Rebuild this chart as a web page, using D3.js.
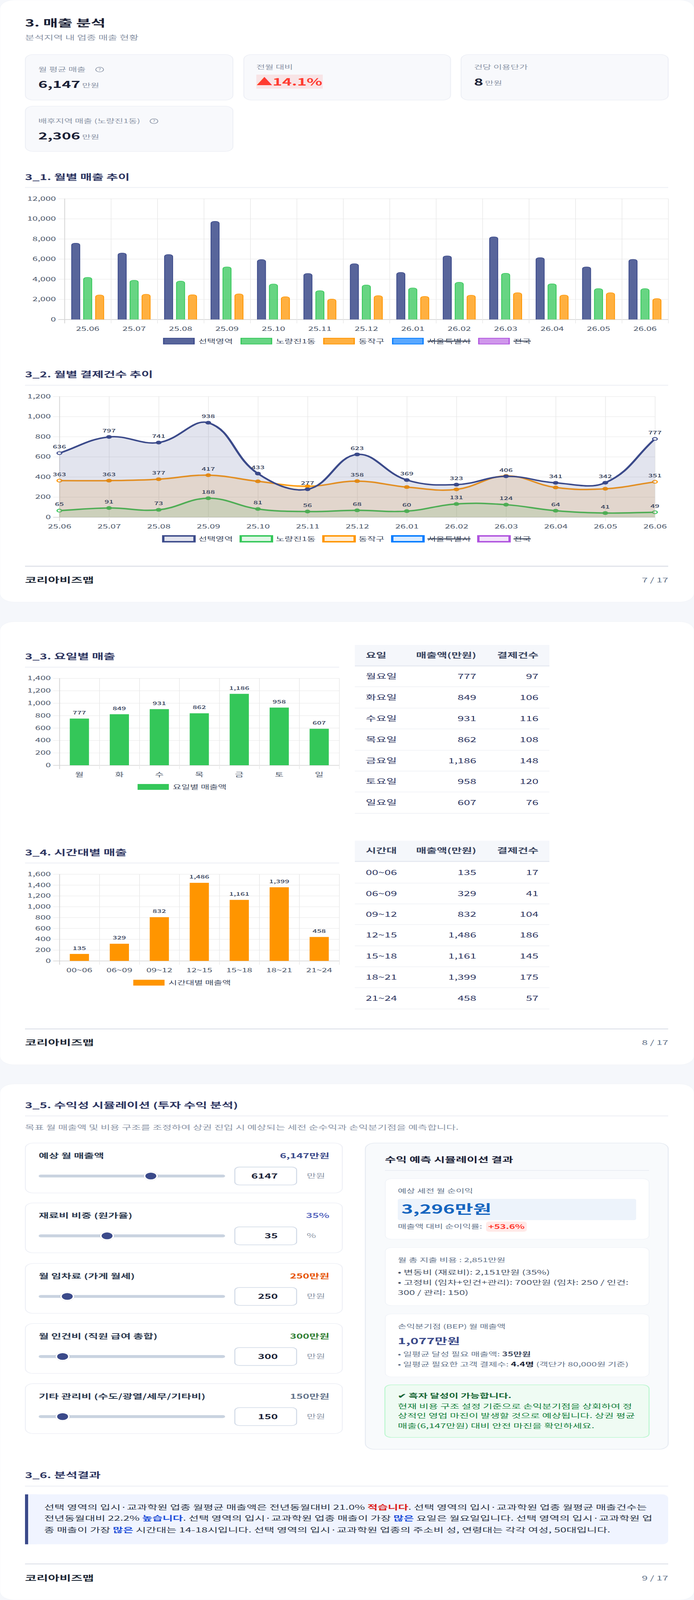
<html>
<head>
<meta charset="utf-8">
<script src="https://d3js.org/d3.v7.min.js"></script>
<style>
html, body { margin: 0; padding: 0; background: #f5f7fb; overflow: hidden; }
svg { display: block; }
text { font-family: "Noto Sans CJK KR", "Noto Sans", sans-serif; }
</style>
</head>
<body>
<svg id="page" width="1776" height="6604" viewBox="0 0 1776 6604" preserveAspectRatio="none"></svg>
<script>
// 3_1 / 3_2 months
var months = ["25.06","25.07","25.08","25.09","25.10","25.11","25.12","26.01","26.02","26.03","26.04","26.05","26.06"]
var legendNames = ["선택영역","노량진1동","동작구","서울특별시","전국"]
var legendColors = ["#3b4a8a","#34c759","#ff9500","#007aff","#af52de"]
var hiddenSeries = ["서울특별시","전국"]

// 3_1 monthly sales
var salesSelected = [7576,6595,6443,9747,5942,4564,5533,4669,6315,8206,6140,5218,5965]
var salesDong = [4179,3887,3805,5218,3513,2860,3420,3128,3688,4587,3537,3058,3058]
var salesGu = [2428,2498,2451,2533,2253,2019,2358,2288,2405,2650,2416,2650,2066]
var salesTicks = [0,2000,4000,6000,8000,10000,12000]

// 3_2 monthly payment counts
var countSelected = [636,797,741,938,433,277,623,369,323,406,341,342,777]
var countDong = [65,91,73,188,81,56,68,60,131,124,64,41,49]
var countGu = [363,363,377,417,356,307,358,299,276,410,295,282,351]
var countGuLabeled = ["25.06","25.07","25.08","25.09","25.12","26.06"]
var countTicks = [0,200,400,600,800,1000,1200]

// 3_3 weekday
var dowShort = ["월","화","수","목","금","토","일"]
var dowNames = ["월요일","화요일","수요일","목요일","금요일","토요일","일요일"]
var dowSales = [777,849,931,862,1186,958,607]
var dowBarHeights = [751,821,903,836,1149,928,587]
var dowCounts = [97,106,116,108,148,120,76]
var dowTicks = [0,200,400,600,800,1000,1200,1400]

// 3_4 time band
var timeNames = ["00~06","06~09","09~12","12~15","15~18","18~21","21~24"]
var timeSales = [135,329,832,1486,1161,1399,458]
var timeBarHeights = [128,316,806,1440,1125,1358,441]
var timeCounts = [17,41,104,186,145,175,57]
var timeTicks = [0,200,400,600,800,1000,1200,1400,1600]

// 3_5 simulator
var simLabels = ["예상 월 매출액","재료비 비중 (원가율)","월 임차료 (가게 월세)","월 인건비 (직원 급여 총합)","기타 관리비 (수도/광열/세무/기타비)"]
var simShown = ["6,147만원","35%","250만원","300만원","150만원"]
var simInputs = ["6147","35","250","300","150"]
var simUnits = ["만원","%","만원","만원","만원"]
var simColors = ["#3b4a8a","#5c6bc0","#e65100","#2e7d32","#64748b"]
var simFractions = [0.61,0.356,0.125,0.098,0.098]
var simTops = [4718,4965,5215,5463,5711]

var NAVY = "#2d3561", INK = "#1a1f36", MUTED = "#8a94a6", TICK = "#4a5568", LABEL = "#34405a"

var svg = d3.select("#page")

// window can be shorter than the page (capped at 4096 when photographed): fit the height
svg.attr("height", Math.min(window.innerHeight, 6604))

function txt(parent, x, y, s, size, fill, weight, anchor) {
    return parent.append("text").attr("x", x).attr("y", y).attr("dy", "0.35em")
        .attr("font-size", size).attr("fill", fill || INK).attr("font-weight", weight || 400)
        .attr("text-anchor", anchor || "start").text(s)
}
// text made of styled runs
function rich(parent, x, y, runs, size, fill) {
    var t = parent.append("text").attr("x", x).attr("y", y).attr("dy", "0.35em")
        .attr("font-size", size).attr("fill", fill).style("white-space", "pre")
    runs.forEach(function(r) {
        var sp = t.append("tspan").text(r[0])
        if (r[1]) sp.attr("fill", r[1])
        if (r[2]) sp.attr("font-weight", r[2])
    })
    return t
}
function box(parent, x, y, w, h, r, fill, stroke, sw) {
    return parent.append("rect").attr("x", x).attr("y", y).attr("width", w).attr("height", h)
        .attr("rx", r).attr("fill", fill).attr("stroke", stroke || "none").attr("stroke-width", sw || 0)
}
function rule(x1, x2, y, color, sw) {
    svg.append("line").attr("x1", x1).attr("x2", x2).attr("y1", y).attr("y2", y)
        .attr("stroke", color).attr("stroke-width", sw)
}
function sectionTitle(s, y, ruleY, x2) {
    txt(svg, 64, y, s, 32.4, NAVY, 700)
    rule(64, x2 || 1710, ruleY, "#eff1f6", 4)
}
function footer(lineY, textY, page) {
    rule(64, 1710, lineY, "#d3d8e2", 3)
    txt(svg, 64, textY, "코리아비즈맵", 32, "#1f2937", 700)
    txt(svg, 1710, textY, page, 27, "#64748b", 400, "end")
}

// page sheets
box(svg, 0, 0, 1776, 2485, 36, "#fff").attr("stroke", "#eff1f6").attr("stroke-width", 1)
box(svg, 0, 2566, 1776, 1829, 36, "#fff").attr("stroke", "#eff1f6").attr("stroke-width", 1)
box(svg, 0, 4474, 1776, 2130, 36, "#fff").attr("stroke", "#eff1f6").attr("stroke-width", 1)

// header + KPI cards
txt(svg, 64, 96, "3. 매출 분석", 40.8, INK, 700)
txt(svg, 64, 156, "분석지역 내 업종 매출 현황", 26.4, MUTED)

function kpiCard(x, y, w, h) { box(svg, x, y, w, h, 20, "#f8f9fc", "#eef0f6", 2.5) }
function helpIcon(x, y) {
    svg.append("circle").attr("cx", x).attr("cy", y).attr("r", 10).attr("fill", "none").attr("stroke", MUTED).attr("stroke-width", 2)
    txt(svg, x, y, "?", 15, MUTED, 400, "middle")
}
kpiCard(65, 225, 531, 188)
kpiCard(624, 225, 529, 188)
kpiCard(1180, 225, 530, 188)
kpiCard(65, 438, 531, 187)

txt(svg, 98, 287, "월 평균 매출", 24, MUTED)
helpIcon(255, 287)
txt(svg, 98, 349, "6,147", 40, INK, 700)
txt(svg, 210, 353, "만원", 24, MUTED)

txt(svg, 656, 277, "전월 대비", 24, MUTED)
box(svg, 656, 308, 170, 58, 0, "#f8e4e6")
txt(svg, 656, 338, "▲14.1%", 41.6, "#ff3b30", 700)

txt(svg, 1213, 277, "건당 이용단가", 24, MUTED)
txt(svg, 1213, 339, "8", 40, INK, 700)
txt(svg, 1241, 343, "만원", 24, MUTED)

txt(svg, 98, 500, "배후지역 매출 (노량진1동)", 24, MUTED)
helpIcon(394, 500)
txt(svg, 98, 561, "2,306", 40, INK, 700)
txt(svg, 210, 566, "만원", 24, MUTED)

// chart helpers
function yAxis(g, y, ticks, left, width) {
    var a = g.append("g").attr("transform", "translate(" + left + ",0)")
        .call(d3.axisLeft(y).tickValues(ticks).tickFormat(d3.format(",")).tickSize(-width).tickPadding(22))
    a.select(".domain").remove()
    a.selectAll("line").attr("x1", -16).attr("stroke", function(d) { return d === 0 ? "#d8d8d8" : "#ebebeb" })
        .attr("stroke-width", function(d) { return d === 0 ? 3 : 2 })
    a.selectAll("text").attr("font-size", 24).attr("fill", TICK)
    a.attr("font-family", null)
}
function vGrid(g, n, left, right, top, bottom) {
    var ix = d3.scaleLinear().domain([0, n]).range([left, right])
    var a = g.append("g").attr("transform", "translate(0," + bottom + ")")
        .call(d3.axisBottom(ix).tickValues(d3.range(n + 1)).tickFormat("").tickSize(16))
    a.select(".domain").remove()
    a.selectAll("line").attr("y1", top - bottom).attr("stroke", function(d) { return d === 0 ? "#d4d4d4" : "#e8e8e8" })
        .attr("stroke-width", function(d) { return d === 0 ? 2 : 1.5 })
}
function xLabels(g, x, bottom) {
    var a = g.append("g").attr("transform", "translate(0," + bottom + ")")
        .call(d3.axisBottom(x).tickSize(0).tickPadding(30))
    a.select(".domain").remove()
    a.selectAll("text").attr("font-size", 24).attr("fill", TICK)
    a.attr("font-family", null)
    return a
}
// centred legend: swatch, gap, text
function legend(g, names, colors, cx, y, style) {
    var row = g.append("g")
    var cursor = 0
    names.forEach(function(n, i) {
        var item = row.append("g").attr("transform", "translate(" + cursor + ",0)")
        style(item, colors[i], i)
        var t = txt(item, 90, 0, n, 24, "#3f4a5f")
        var w = t.node().getComputedTextLength()
        if (hiddenSeries.indexOf(n) >= 0) {
            item.append("line").attr("x1", 90).attr("x2", 90 + w).attr("y1", 0).attr("y2", 0)
                .attr("stroke", "#3f4a5f").attr("stroke-width", 4)
        }
        cursor += 90 + w + 20
    })
    row.attr("transform", "translate(" + (cx - (cursor - 20) / 2) + "," + y + ")")
}
// top rounded bar
function roundTop(x, y0, w, y1, r) {
    var p = d3.path()
    p.moveTo(x, y0)
    p.lineTo(x, y1 + r)
    p.arcTo(x, y1, x + r, y1, r)
    p.lineTo(x + w - r, y1)
    p.arcTo(x + w, y1, x + w, y1 + r, r)
    p.lineTo(x + w, y0)
    return p.toString()
}

// 3_1
sectionTitle("3_1. 월별 매출 추이", 732, 774)
var g1 = svg.append("g")
var y1 = d3.scaleLinear().domain([0, 12000]).range([1318.4, 820])
var x1 = d3.scaleBand().domain(months).range([165, 1710])
var x1in = d3.scaleBand().domain([0, 1, 2]).range([8.6, 110.2]).padding(0.32)
yAxis(g1, y1, salesTicks, 165, 1545)
vGrid(g1, months.length, 165, 1710, 820, 1318.4)
xLabels(g1, x1, 1318.4)
var salesSeries = [salesSelected, salesDong, salesGu]
var barFills = ["rgba(59,74,138,0.85)", "rgba(52,199,89,0.75)", "rgba(255,149,0,0.75)"]
salesSeries.forEach(function(values, s) {
    g1.append("g").selectAll("path").data(values).enter().append("path")
        .attr("d", function(d, i) {
            return roundTop(x1(months[i]) + x1in(s), y1(0), x1in.bandwidth(), y1(d), 8)
        })
        .attr("fill", barFills[s]).attr("stroke", legendColors[s]).attr("stroke-width", 2)
})
legend(g1, legendNames, legendColors, 888, 1408, function(item, c, i) {
    var fills = ["rgba(59,74,138,0.85)", "rgba(52,199,89,0.75)", "rgba(255,149,0,0.75)", "rgba(0,122,255,0.65)", "rgba(175,82,222,0.6)"]
    box(item, 1, -12, 78, 24, 0, fills[i], c, 3)
})

// 3_2
sectionTitle("3_2. 월별 결제건수 추이", 1546, 1590)
var g2 = svg.append("g")
var y2 = d3.scaleLinear().domain([0, 1200]).range([2134.6, 1636])
var x2 = d3.scalePoint().domain(months).range([152, 1676])
yAxis(g2, y2, countTicks, 152, 1524)
vGrid(g2, months.length - 1, 152, 1676, 1636, 2134.6)
xLabels(g2, x2, 2134.6)

// same spline the original chart used: control points weighted by segment length
function spline(points, tension) {
    var p = d3.path(), cp = []
    points.forEach(function(c, i) {
        var a = points[i - 1] || c, b = points[i + 1] || c
        var d01 = Math.hypot(c[0] - a[0], c[1] - a[1]), d12 = Math.hypot(b[0] - c[0], b[1] - c[1])
        var s = d01 + d12 || 1
        var fa = tension * d01 / s, fb = tension * d12 / s
        cp.push([c[0] - fa * (b[0] - a[0]), c[1] - fa * (b[1] - a[1]), c[0] + fb * (b[0] - a[0]), c[1] + fb * (b[1] - a[1])])
    })
    p.moveTo(points[0][0], points[0][1])
    for (var i = 1; i < points.length; i++) {
        p.bezierCurveTo(cp[i - 1][2], cp[i - 1][3], cp[i][0], cp[i][1], points[i][0], points[i][1])
    }
    return p.toString()
}
var countSeries = [countSelected, countGu, countDong]
var countColors = [legendColors[0], legendColors[2], legendColors[1]]
// first series ends up on top
d3.range(2, -1, -1).forEach(function(s) {
    var pts = countSeries[s].map(function(v, i) { return [x2(months[i]), y2(v)] })
    var line = spline(pts, 0.4)
    g2.append("path").attr("d", line + "L" + x2(months[12]) + "," + y2(0) + "L" + x2(months[0]) + "," + y2(0) + "Z")
        .attr("fill", countColors[s]).attr("fill-opacity", 0.15)
    g2.append("path").attr("d", line).attr("fill", "none").attr("stroke", countColors[s]).attr("stroke-width", 6)
        .attr("stroke-opacity", s === 1 ? 0.93 : 1)
    g2.append("g").selectAll("circle").data(pts).enter().append("circle")
        .attr("cx", function(d) { return d[0] }).attr("cy", function(d) { return d[1] }).attr("r", 6)
        .attr("fill", function(d, i) { return i === 0 || i === 12 ? "#fff" : countColors[s] })
        .attr("fill-opacity", function(d, i) { return i === 0 || i === 12 ? 0.8 : 1 })
        .attr("stroke", countColors[s]).attr("stroke-width", 3)
})
countSeries.forEach(function(values, s) {
    values.forEach(function(v, i) {
        if (s === 1 && countGuLabeled.indexOf(months[i]) < 0) return
        txt(g2, x2(months[i]), y2(v) - 26, v, 20, LABEL, 500, "middle")
    })
})
legend(g2, legendNames, legendColors, 888, 2224, function(item, c) {
    box(item, 0, -12, 80, 24, 0, d3.color(c).copy({opacity: 0.15}) + "", c, 6)
})
footer(2337, 2395, "7 / 17")

// weekday / time band charts share this layout
function barPanel(o) {
    sectionTitle(o.title, o.titleY, o.ruleY, 868)
    var g = svg.append("g")
    var y = d3.scaleLinear().domain([0, d3.max(o.ticks)]).range([o.bottom, o.top])
    var x = d3.scaleBand().domain(o.names).range([152, 868]).paddingInner(0.52).paddingOuter(0.26)
    yAxis(g, y, o.ticks, 152, 716)
    vGrid(g, o.names.length, 152, 868, o.top, o.bottom)
    xLabels(g, x, o.bottom)
    g.append("g").selectAll("rect").data(o.heights).enter().append("rect")
        .attr("x", function(d, i) { return x(o.names[i]) }).attr("y", function(d) { return y(d) })
        .attr("width", x.bandwidth()).attr("height", function(d) { return y(0) - y(d) }).attr("fill", o.color)
    o.labels.forEach(function(v, i) {
        txt(g, x(o.names[i]) + x.bandwidth() / 2, y(o.heights[i]) - 24, d3.format(",")(v), 20, LABEL, 500, "middle")
    })
    legend(g, [o.legend], [o.color], 466, o.legendY, function(item, c) { box(item, 0, -12, 80, 24, 0, c) })
}
// table with header and hairline rows
function table(o) {
    box(svg, 908, o.top, 498, o.headBottom - o.top, 0, "#f5f7fb")
    rule(908, 1406, o.headBottom + 1.5, "#e4e8f0", 4)
    var headY = (o.top + o.headBottom) / 2
    txt(svg, 936, headY, o.head[0], 28.8, "#3a4560", 700)
    txt(svg, 1219, headY, o.head[1], 28.8, "#3a4560", 700, "end")
    txt(svg, 1378, headY, o.head[2], 28.8, "#3a4560", 700, "end")
    var prev = o.headBottom + 3
    o.lines.forEach(function(ly, i) {
        var cy = (prev + ly) / 2
        txt(svg, 936, cy, o.names[i], 28.8, NAVY)
        txt(svg, 1219, cy, d3.format(",")(o.sales[i]), 28.8, NAVY, 400, "end")
        txt(svg, 1378, cy, o.counts[i], 28.8, NAVY, 400, "end")
        rule(908, 1406, ly, "#eff1f5", 2.5)
        prev = ly
    })
}

barPanel({title: "3_3. 요일별 매출", titleY: 2711, ruleY: 2754, names: dowShort, heights: dowBarHeights, labels: dowSales,
    ticks: dowTicks, top: 2799.5, bottom: 3158.5, color: "#34c759", legend: "요일별 매출액", legendY: 3248})
table({top: 2662, headBottom: 2747, head: ["요일","매출액(만원)","결제건수"], names: dowNames, sales: dowSales, counts: dowCounts,
    lines: [2834.6,2922.6,3008.7,3096.7,3182.7,3268.9,3357]})

barPanel({title: "3_4. 시간대별 매출", titleY: 3519, ruleY: 3562, names: timeNames, heights: timeBarHeights, labels: timeSales,
    ticks: timeTicks, top: 3608, bottom: 3966, color: "#ff9500", legend: "시간대별 매출액", legendY: 4056})
table({top: 3470, headBottom: 3554, head: ["시간대","매출액(만원)","결제건수"], names: timeNames, sales: timeSales, counts: timeCounts,
    lines: [3645,3731,3816,3904,3990.6,4076.6,4164.6]})
footer(4247, 4304, "8 / 17")

// 3_5 simulator
sectionTitle("3_5. 수익성 시뮬레이션 (투자 수익 분석)", 4563, 4606)
txt(svg, 64, 4653, "목표 월 매출액 및 비용 구조를 조정하여 상권 진입 시 예상되는 세전 순수익과 손익분기점을 예측합니다.", 26.4, MUTED)

var sliderX = d3.scaleLinear().domain([0, 1]).range([117, 558])
simLabels.forEach(function(label, i) {
    var top = simTops[i]
    box(svg, 65, top, 811, 206, 20, "#fff", "#eef0f6", 2.5)
    txt(svg, 99, top + 53, label, 28, "#2d3a4f", 700)
    txt(svg, 843, top + 53, simShown[i], 28, simColors[i], 700, "end")
    var cy = top + 136
    box(svg, 99, cy - 6, 477, 12, 6, "#c9d3e0")
    svg.append("circle").attr("cx", sliderX(simFractions[i])).attr("cy", cy).attr("r", 19).attr("fill", "#000").attr("fill-opacity", 0.08)
    svg.append("circle").attr("cx", sliderX(simFractions[i])).attr("cy", cy).attr("r", 16)
        .attr("fill", "#3b4a8a").attr("stroke", "#fff").attr("stroke-width", 4)
    box(svg, 601, cy - 37, 158, 74, 12, "#fff", "#d0d9e6", 2.5)
    txt(svg, 711, cy, simInputs[i], 28.8, INK, 700, "end")
    txt(svg, 785, cy, simUnits[i], 25.6, MUTED)
})

// result panel
box(svg, 935, 4718, 775, 1264, 24, "#f8fafc", "#e6ebf2", 2.5)
txt(svg, 985, 4788, "수익 예측 시뮬레이션 결과", 30.4, INK, 700)
rule(985, 1661, 4831, "#e2e8f0", 2)

function resultBox(top, h) { box(svg, 986, top, 675, h, 16, "#fff", "#f0f3f8", 2) }
var SLATE = "#64748b", BODY = "#4a5568"

resultBox(4865, 250)
txt(svg, 1018, 4916, "예상 세전 월 순이익", 24, SLATE)
box(svg, 1018, 4948, 610, 88, 6, "#edf3fb")
txt(svg, 1027, 4992, "3,296만원", 51, "#1565c0", 700)
txt(svg, 1018, 5062, "매출액 대비 순이익률:", 24, SLATE)
box(svg, 1244, 5042, 104, 42, 8, "#ffe9e7")
txt(svg, 1296, 5063, "+53.6%", 25.6, "#ff3b30", 700, "middle")

resultBox(5149, 240)
txt(svg, 1018, 5201, "월 총 지출 비용 : 2,851만원", 24.5, SLATE)
txt(svg, 1018, 5252, "• 변동비 (재료비): 2,151만원 (35%)", 26.4, BODY)
txt(svg, 1018, 5294, "• 고정비 (임차+인건+관리): 700만원 (임차: 250 / 인건:", 26.4, BODY)
txt(svg, 1018, 5335, "300 / 관리: 150)", 26.4, BODY)

resultBox(5423, 260)
txt(svg, 1018, 5475, "손익분기점 (BEP) 월 매출액", 24, SLATE)
txt(svg, 1018, 5536, "1,077만원", 35.2, "#3b4a8a", 700)
rich(svg, 1018, 5590, [["• 일평균 달성 필요 매출액: "], ["35만원", "#3f4a5f", 700]], 24.4, SLATE)
rich(svg, 1018, 5631, [["• 일평균 필요한 고객 결제수: "], ["4.4명", INK, 700], [" (객단가 80,000원 기준)"]], 24.4, SLATE)

box(svg, 985, 5716, 676, 217, 16, "#effbf3", "#bbf7d0", 2.5)
txt(svg, 1018, 5762, "✔ 흑자 달성이 가능합니다.", 26.4, "#166534", 700)
txt(svg, 1018, 5804, "현재 비용 구조 설정 기준으로 손익분기점을 상회하여 정", 26.4, "#15803d")
txt(svg, 1018, 5844, "상적인 영업 마진이 발생할 것으로 예상됩니다. 상권 평균", 26.4, "#15803d")
txt(svg, 1018, 5885, "매출(6,147만원) 대비 안전 마진을 확인하세요.", 26.4, "#15803d")

// 3_6 result text
sectionTitle("3_6. 분석결과", 6090, 6134)
box(svg, 64, 6168, 1646, 206, 16, "#f0f4ff")
svg.append("rect").attr("x", 64).attr("y", 6168).attr("width", 30).attr("height", 206).attr("fill", "#f0f4ff")
svg.append("rect").attr("x", 64).attr("y", 6168).attr("width", 8).attr("height", 206).attr("fill", "#3b4a8a")
var RED = "#dc1c1c", BLUE = "#1d4ed8", TEXT = "#2d3748"
rich(svg, 113, 6221, [["선택 영역의 입시·교과학원 업종 월평균 매출액은 전년동월대비 21.0% "], ["적습니다", RED, 700], [". 선택 영역의 입시·교과학원 업종 월평균 매출건수는"]], 28.4, TEXT)
rich(svg, 113, 6267, [["전년동월대비 22.2% "], ["높습니다", BLUE, 700], [". 선택 영역의 입시·교과학원 업종 매출이 가장 "], ["많은", BLUE, 700], [" 요일은 월요일입니다. 선택 영역의 입시·교과학원 업"]], 28.4, TEXT)
rich(svg, 113, 6315, [["종 매출이 가장 "], ["많은", BLUE, 700], [" 시간대는 14-18시입니다. 선택 영역의 입시·교과학원 업종의 주소비 성, 연령대는 각각 여성, 50대입니다."]], 28.4, TEXT)
footer(6455, 6514, "9 / 17")
</script>
</body>
</html>
